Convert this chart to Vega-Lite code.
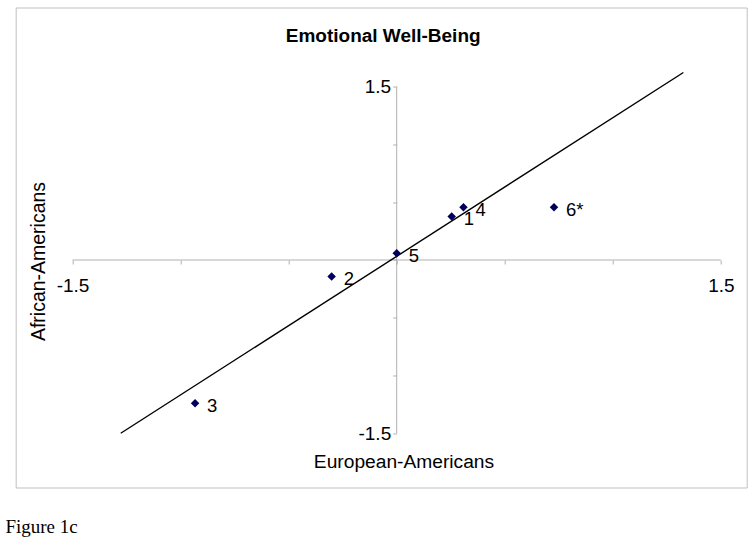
{
  "$schema": "https://vega.github.io/schema/vega-lite/v6.json",
  "padding": {"left": 4.7, "top": 6.5, "right": 9, "bottom": 5},
  "background": "white",
  "config": {"view": {"stroke": "#c0c0c0", "strokeWidth": 1}, "font": "Liberation Sans"},
  "title": {"text": "Figure 1c", "orient": "bottom", "anchor": "start", "frame": "group", "font": "Liberation Serif", "fontSize": 19, "fontWeight": "normal", "color": "black", "offset": 30, "dx": -10.3},
  "datasets": {
    "pts": [
      {"group": "1", "x": 0.2545, "y": 0.377},
      {"group": "2", "x": -0.301, "y": -0.143},
      {"group": "3", "x": -0.933, "y": -1.24},
      {"group": "4", "x": 0.309, "y": 0.457},
      {"group": "5", "x": 0.0, "y": 0.059},
      {"group": "6*", "x": 0.728, "y": 0.457}
    ]
  },
  "vconcat": [
    {
      "width": 731,
      "height": 480,
      "title": {"text": "Emotional Well-Being", "font": "Liberation Sans", "fontSize": 19, "fontWeight": "bold", "color": "black", "anchor": "middle", "offset": -38, "dx": 2},
      "layer": [
        {
          "data": {"values": [
            {"x": -1.5, "x2": 1.5, "y": 0, "y2": 0},
            {"x": 0, "x2": 0, "y": -1.5, "y2": 1.5}
          ]},
          "mark": {"type": "rule", "color": "#b0b0b0", "strokeWidth": 1},
          "encoding": {
            "x": {"field": "x", "type": "quantitative",
              "scale": {"domain": [-1.7631, 1.6196], "nice": false, "zero": false},
              "axis": {"orient": "bottom", "offset": -227.5, "domain": false, "grid": false,
                "values": [-1.5, -1, -0.5, 0, 0.5, 1, 1.5], "tickSize": 4, "tickColor": "#b0b0b0", "tickWidth": 1,
                "labelExpr": "datum.value == 1.5 ? '1.5' : (datum.value == -1.5 ? '-1.5' : '')",
                "labelFont": "Liberation Sans", "labelFontSize": 19, "labelColor": "black", "labelPadding": 12.5, "labelDx": 4,
                "labelFlush": false, "labelOverlap": false,
                "title": "European-Americans", "titleFont": "Liberation Sans", "titleFontSize": 19.2, "titleFontWeight": "normal", "titleColor": "black",
                "titleX": 387.8, "titleY": 207.5, "titleBaseline": "alphabetic", "titleAlign": "center"}},
            "x2": {"field": "x2"},
            "y": {"field": "y", "type": "quantitative",
              "scale": {"domain": [-1.9697, 2.1861], "nice": false, "zero": false},
              "axis": {"orient": "left", "offset": -381, "domain": false, "grid": false,
                "values": [-1.5, -1, -0.5, 0, 0.5, 1, 1.5], "tickSize": 4, "tickColor": "#b0b0b0", "tickWidth": 1,
                "labelExpr": "datum.value == 1.5 ? '1.5' : (datum.value == -1.5 ? '-1.5' : '')",
                "labelFont": "Liberation Sans", "labelFontSize": 19, "labelColor": "black", "labelPadding": 2, "labelDy": 3,
                "labelFlush": false, "labelOverlap": false,
                "title": "African-Americans", "titleFont": "Liberation Sans", "titleFontSize": 19.5, "titleFontWeight": "normal", "titleColor": "black",
                "titleX": -352, "titleY": 253.5, "titleAngle": -90, "titleBaseline": "alphabetic", "titleAlign": "center"}},
            "y2": {"field": "y2"}
          }
        },
        {
          "data": {"values": [{"x": -1.277, "y": -1.5, "x2": 1.3267, "y2": 1.6234}]},
          "mark": {"type": "rule", "color": "black", "strokeWidth": 1.4},
          "encoding": {
            "x": {"field": "x", "type": "quantitative"},
            "x2": {"field": "x2"},
            "y": {"field": "y", "type": "quantitative"},
            "y2": {"field": "y2"}
          }
        },
        {
          "data": {"name": "pts"},
          "mark": {"type": "point", "shape": "diamond", "filled": true, "color": "#00005c", "size": 72, "opacity": 1},
          "encoding": {
            "x": {"field": "x", "type": "quantitative"},
            "y": {"field": "y", "type": "quantitative"}
          }
        },
        {
          "data": {"name": "pts"},
          "mark": {"type": "text", "align": "left", "baseline": "middle", "dx": 12, "dy": 2.5, "font": "Liberation Sans", "fontSize": 18.5, "color": "black"},
          "encoding": {
            "x": {"field": "x", "type": "quantitative"},
            "y": {"field": "y", "type": "quantitative"},
            "text": {"field": "group"}
          }
        }
      ]
    }
  ]
}
